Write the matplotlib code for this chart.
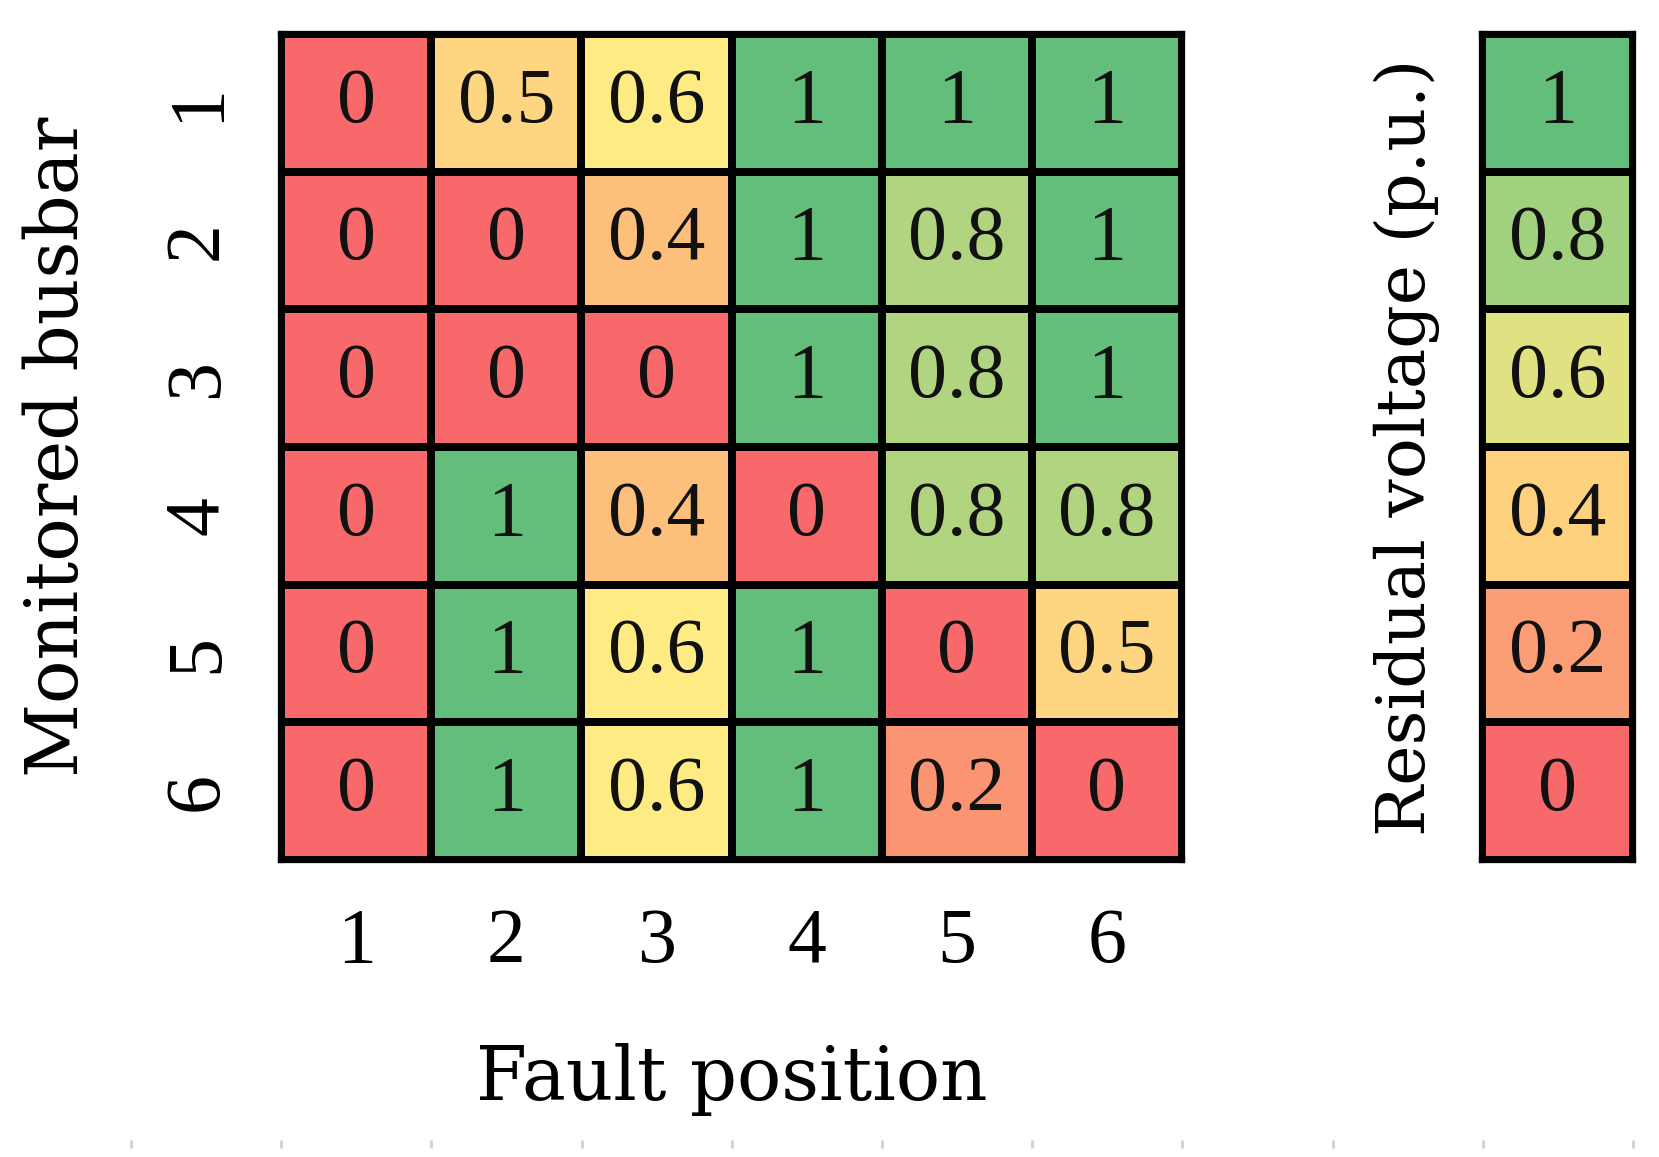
import numpy as np
import matplotlib.pyplot as plt
from matplotlib.colors import LinearSegmentedColormap, TwoSlopeNorm
from matplotlib.lines import Line2D

# dados
posicoes_falta = ['1', '2', '3', '4', '5', '6']
barramentos = ['1', '2', '3', '4', '5', '6']
tensao_residual = np.array([
    [0, 0.5, 0.6, 1, 1, 1],
    [0, 0, 0.4, 1, 0.8, 1],
    [0, 0, 0, 1, 0.8, 1],
    [0, 1, 0.4, 0, 0.8, 0.8],
    [0, 1, 0.6, 1, 0, 0.5],
    [0, 1, 0.6, 1, 0.2, 0],
])
escala_valores = np.array([1, 0.8, 0.6, 0.4, 0.2, 0])

plt.rcParams['font.family'] = ['Liberation Serif', 'DejaVu Serif']

cmap = LinearSegmentedColormap.from_list('rag', ['#F8696B', '#FFEB84', '#63BE7B'])
tam_fonte = 56
lw = 4.5

fig = plt.figure(figsize=(16.59, 11.57), dpi=100)
ax = fig.add_axes([281 / 1659, 1 - 860 / 1157, 901 / 1659, 826 / 1157])
ax.pcolormesh(tensao_residual, cmap=cmap, norm=TwoSlopeNorm(vmin=0, vcenter=0.6, vmax=1),
              edgecolors='black', linewidth=lw)
ax.set_xlim(0, 6)
ax.set_ylim(6, 0)
for i in range(tensao_residual.shape[0]):
    for j in range(tensao_residual.shape[1]):
        ax.text(j + 0.5, i + 0.5, f'{tensao_residual[i, j]:g}', ha='center', va='center',
                fontsize=tam_fonte, color='#111111')
ax.set_xticks(np.arange(6) + 0.5)
ax.set_xticklabels(posicoes_falta, fontsize=tam_fonte)
ax.set_yticks(np.arange(6) + 0.5)
ax.set_yticklabels(barramentos, fontsize=tam_fonte, rotation=90, va='center')
ax.tick_params(length=0, pad=34)
ax.set_xlabel('Fault position', labelpad=46, fontsize=53, family='DejaVu Serif')
ax.set_ylabel('Monitored busbar', labelpad=50, fontsize=52, family='DejaVu Serif')
for s in ax.spines.values():
    s.set_linewidth(lw)

# barra de cores
cax = fig.add_axes([1482 / 1659, 1 - 860 / 1157, 151 / 1659, 826 / 1157])
cax.pcolormesh(escala_valores.reshape(-1, 1), cmap=cmap, norm=TwoSlopeNorm(vmin=0, vcenter=0.5, vmax=1),
               edgecolors='black', linewidth=lw)
cax.set_xlim(0, 1)
cax.set_ylim(6, 0)
for i, v in enumerate(escala_valores):
    cax.text(0.5, i + 0.5, f'{v:g}', ha='center', va='center', fontsize=tam_fonte, color='#111111')
cax.set_xticks([])
cax.set_yticks([])
cax.set_ylabel('Residual voltage (p.u.)', labelpad=30, fontsize=49, family='DejaVu Serif')
for s in cax.spines.values():
    s.set_linewidth(lw)

# marcas cinzas no rodape
xs = np.linspace(131, 1633, 11) / 1659
fig.add_artist(Line2D(xs, np.full_like(xs, 1 - 1144 / 1157), marker='|', linestyle='none',
                      color='#d0d0d0', markersize=6, markeredgewidth=2))

fig.savefig('out.png', dpi=100)
